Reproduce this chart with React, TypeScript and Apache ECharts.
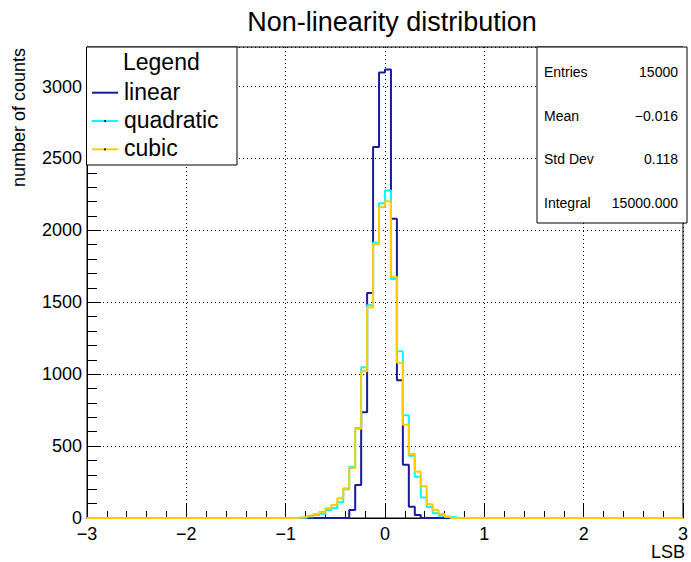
import React, { useEffect, useRef } from "react";
import * as echarts from "echarts";

// Histogram binning (ROOT TH1: 100 bins on [-3, 3])
const BIN_MIN = -3;
const BIN_WIDTH = 0.06;
const N_BINS = 100;

// Non-zero bin contents, with the index of the first listed bin
const linearStart = 44;
const linearCounts = [56, 230, 735, 1565, 2580, 3098, 3119, 2080, 958, 370, 79, 21];

const quadraticStart = 35;
const quadraticCounts = [
  2, 3, 10, 20, 30, 55, 70, 110, 200, 355, 625, 1049, 1479, 1915, 2189, 2277,
  1661, 1160, 714, 433, 286, 143, 77, 33, 15, 9, 5,
];

const cubicStart = 35;
const cubicCounts = [
  3, 7, 15, 28, 44, 68, 91, 137, 207, 347, 621, 1021, 1463, 1905, 2160, 2203,
  1677, 1079, 649, 445, 323, 220, 95, 56, 28, 9,
];

const seriesNames = ["linear", "quadratic", "cubic"];
const seriesColors = ["#1a1a9c", "#00ffff", "#ffcc00"];

const statLabels = ["Entries", "Mean", "Std Dev", "Integral"];
const statValues = ["15000", "\u22120.016", "0.118", "15000.000"];

const Y_MAX = 3275;
const FONT = "Liberation Sans, Arial, Helvetica, sans-serif";

function buildSteps(start: number, counts: number[]): [number, number][] {
  const pts: [number, number][] = [];
  for (let i = 0; i < N_BINS; i++) {
    const k = i - start;
    const v = k >= 0 && k < counts.length ? counts[k] : 0;
    pts.push([+(BIN_MIN + i * BIN_WIDTH).toFixed(4), v]);
  }
  pts.push([+(BIN_MIN + N_BINS * BIN_WIDTH).toFixed(4), 0]);
  return pts;
}

const fmtMinus = (v: number) => String(v).replace("-", "\u2212");

export default function App() {
  const ref = useRef<HTMLDivElement>(null);
  useEffect(() => {
    if (!ref.current) return;
    const chart = echarts.init(ref.current, undefined, { renderer: "svg" });
    const data = [
      buildSteps(linearStart, linearCounts),
      buildSteps(quadraticStart, quadraticCounts),
      buildSteps(cubicStart, cubicCounts),
    ];

    const legendX = 86.5;
    const legendY = 47;
    const legendRows = [91.7, 120, 148.3];

    const graphic: any[] = [
      // y axis title
      {
        type: "text",
        x: 19,
        y: 48,
        rotation: Math.PI / 2,
        z: 100,
        style: {
          text: "number of counts",
          font: `18px ${FONT}`,
          fill: "#000",
          align: "right",
          verticalAlign: "middle",
        },
      },
      // x axis title
      {
        type: "text",
        x: 685,
        y: 552,
        z: 100,
        style: {
          text: "LSB",
          font: `18px ${FONT}`,
          fill: "#000",
          align: "right",
          verticalAlign: "middle",
        },
      },
      // legend box
      {
        type: "rect",
        z: 100,
        shape: { x: legendX, y: legendY, width: 150.5, height: 118 },
        style: { fill: "#fff", stroke: "#000", lineWidth: 1 },
      },
      {
        type: "text",
        x: 123,
        y: 61.7,
        z: 101,
        style: {
          text: "Legend",
          font: `23px ${FONT}`,
          fill: "#000",
          align: "left",
          verticalAlign: "middle",
        },
      },
      // stats box
      {
        type: "rect",
        z: 100,
        shape: { x: 537, y: 47, width: 150, height: 176 },
        style: { fill: "#fff", stroke: "#000", lineWidth: 1 },
      },
    ];

    seriesNames.forEach((name, i) => {
      const y = legendRows[i];
      graphic.push({
        type: "line",
        z: 101,
        shape: { x1: 92, y1: y + 1, x2: 118, y2: y + 1 },
        style: { stroke: seriesColors[i], lineWidth: 2 },
      });
      if (i > 0) {
        graphic.push({
          type: "circle",
          z: 102,
          shape: { cx: 105, cy: y + 1, r: 1 },
          style: { fill: "#000" },
        });
      }
      graphic.push({
        type: "text",
        x: 124,
        y: y,
        z: 101,
        style: {
          text: name,
          font: `23px ${FONT}`,
          fill: "#000",
          align: "left",
          verticalAlign: "middle",
        },
      });
    });

    const statRows = [72.3, 115.7, 159, 203.3];
    statLabels.forEach((lab, i) => {
      graphic.push({
        type: "text",
        x: 544,
        y: statRows[i],
        z: 101,
        style: {
          text: lab,
          font: `14px ${FONT}`,
          fill: "#000",
          align: "left",
          verticalAlign: "middle",
        },
      });
      graphic.push({
        type: "text",
        x: 678,
        y: statRows[i],
        z: 101,
        style: {
          text: statValues[i],
          font: `14px ${FONT}`,
          fill: "#000",
          align: "right",
          verticalAlign: "middle",
        },
      });
    });

    const option: any = {
      animation: false,
      backgroundColor: "#fff",
      title: {
        text: "Non-linearity distribution",
        left: 387,
        top: 3,
        textAlign: "center",
        textStyle: {
          fontSize: 27,
          fontWeight: "normal",
          fontFamily: FONT,
          color: "#000",
        },
      },
      grid: {
        left: 87,
        right: 4,
        top: 47,
        bottom: 44,
        show: true,
        borderColor: "#000",
        borderWidth: 1,
        backgroundColor: "transparent",
      },
      xAxis: {
        type: "value",
        min: -3,
        max: 3,
        interval: 1,
        axisLine: { show: true, onZero: false, lineStyle: { color: "#000", width: 1 } },
        axisTick: { show: true, inside: true, length: 15, lineStyle: { color: "#000" } },
        minorTick: { show: true, splitNumber: 5, length: 7, lineStyle: { color: "#000" } },
        axisLabel: {
          color: "#000",
          fontSize: 18,
          fontFamily: FONT,
          margin: 7,
          lineHeight: 18,
          formatter: fmtMinus,
        },
        splitLine: {
          show: true,
          lineStyle: { color: "#000", width: 1, type: [1, 3] },
        },
      },
      yAxis: {
        type: "value",
        min: 0,
        max: Y_MAX,
        interval: 500,
        axisLine: { show: true, onZero: false, lineStyle: { color: "#000", width: 1 } },
        axisTick: { show: true, inside: true, length: 14, lineStyle: { color: "#000" } },
        minorTick: { show: true, splitNumber: 5, length: 10, lineStyle: { color: "#000" } },
        axisLabel: {
          color: "#000",
          fontSize: 18,
          fontFamily: FONT,
          margin: 5,
          lineHeight: 18,
          showMaxLabel: false,
          formatter: (v: number) => String(v),
        },
        splitLine: {
          show: true,
          lineStyle: { color: "#000", width: 1, type: [1, 3] },
        },
      },
      series: seriesNames.map((name, i) => ({
        name,
        type: "line",
        step: "end",
        data: data[i],
        showSymbol: false,
        symbol: "none",
        lineStyle: { color: seriesColors[i], width: 2 },
        z: 2 + i,
        silent: true,
      })),
      graphic,
    };
    chart.setOption(option);
    return () => chart.dispose();
  }, []);

  return (
    <div
      ref={ref}
      style={{ position: "fixed", left: 0, top: 0, width: 691, height: 562 }}
    />
  );
}
